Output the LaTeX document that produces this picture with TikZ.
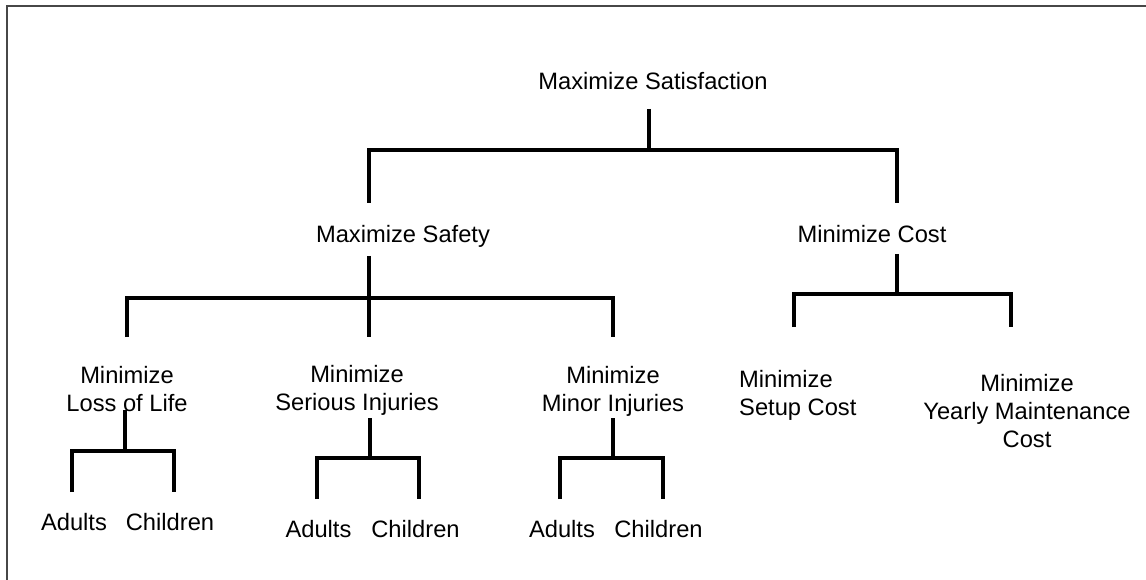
\documentclass[tikz,border=0pt]{standalone}
\usepackage{fontspec}
\setmainfont{Liberation Sans}
\begin{document}
\begin{tikzpicture}[x=1pt,y=-1pt,
  lbl/.style={font=\fontsize{23.7}{28}\selectfont, inner sep=0pt, text=black},
  conn/.style={line width=3.5pt, line join=miter, line cap=butt, draw=black},
  frameline/.style={line width=1.6pt, draw=black!72}]
\useasboundingbox (0,0) rectangle (1146,580);
\draw[frameline] (7,580) -- (7,6) -- (1146,6);

% nodes
\node[lbl,anchor=base] (root) at (653,90) {Maximize Satisfaction};
\node[lbl,anchor=base] (safety) at (403,243) {Maximize Safety};
\node[lbl,anchor=base] (cost) at (872,243) {Minimize Cost};
\node[lbl,anchor=north,align=center] (life) at (127,366) {Minimize\\Loss of Life};
\node[lbl,anchor=north,align=center] (serious) at (357,365) {Minimize\\Serious Injuries};
\node[lbl,anchor=north,align=center] (minor) at (613,366) {Minimize\\Minor Injuries};
\node[lbl,anchor=north west,align=left] (setup) at (739,370) {Minimize\\Setup Cost};
\node[lbl,anchor=north,align=center] (maint) at (1027,374) {Minimize\\Yearly Maintenance\\Cost};
\node[lbl,anchor=base] (la) at (74,530) {Adults};
\node[lbl,anchor=base] (lc) at (170,530) {Children};
\node[lbl,anchor=base] (sa) at (318.5,537) {Adults};
\node[lbl,anchor=base] (sc) at (415.5,537) {Children};
\node[lbl,anchor=base] (ma) at (562,537) {Adults};
\node[lbl,anchor=base] (mc) at (658.5,537) {Children};

% connector points
\coordinate (rootD) at (649,109);
\coordinate (rootJ) at (649,150);
\coordinate (safetyU) at (369,203);
\coordinate (costU) at (897,203);

\coordinate (safetyD) at (369,256);
\coordinate (safetyJ) at (369,298);
\coordinate (lifeU) at (127,337);
\coordinate (seriousU) at (369,337);
\coordinate (minorU) at (613,337);

\coordinate (costD) at (897,254);
\coordinate (costJ) at (897,294);
\coordinate (setupU) at (794,327);
\coordinate (maintU) at (1011,327);

\coordinate (lifeD) at (125,410);
\coordinate (lifeJ) at (125,451);
\coordinate (laU) at (72,492);
\coordinate (lcU) at (174,492);

\coordinate (seriousD) at (370,418);
\coordinate (seriousJ) at (370,458);
\coordinate (saU) at (317,499);
\coordinate (scU) at (419,499);

\coordinate (minorD) at (613,418);
\coordinate (minorJ) at (613,458);
\coordinate (maU) at (560,499);
\coordinate (mcU) at (663,499);

% connectors
\draw[conn] (rootD) -- (rootJ);
\draw[conn] (safetyU) |- (rootJ) -| (costU);

\draw[conn] (safetyD) -- (seriousU);
\draw[conn] (lifeU) |- (safetyJ) -| (minorU);

\draw[conn] (costD) -- (costJ);
\draw[conn] (setupU) |- (costJ) -| (maintU);

\draw[conn] (lifeD) -- (lifeJ);
\draw[conn] (laU) |- (lifeJ) -| (lcU);

\draw[conn] (seriousD) -- (seriousJ);
\draw[conn] (saU) |- (seriousJ) -| (scU);

\draw[conn] (minorD) -- (minorJ);
\draw[conn] (maU) |- (minorJ) -| (mcU);
\end{tikzpicture}
\end{document}
